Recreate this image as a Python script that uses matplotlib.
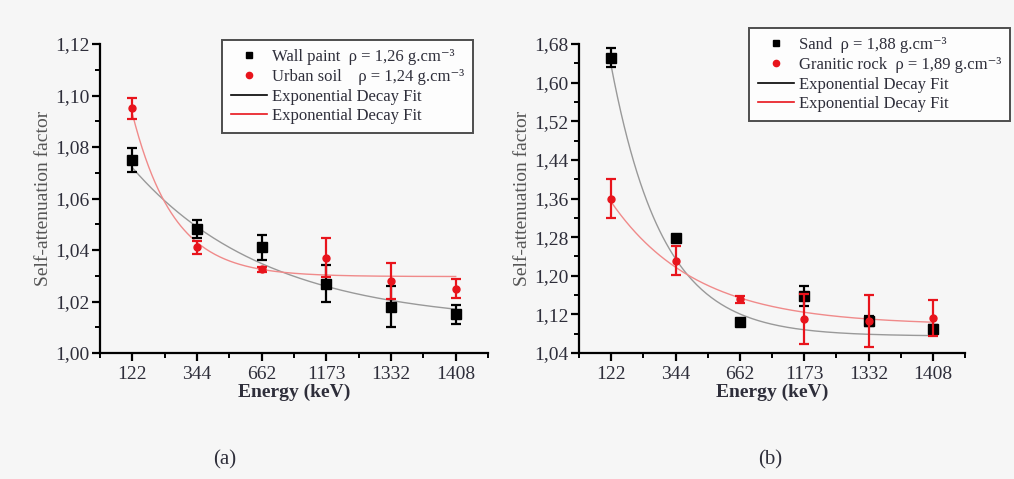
import numpy as np
import matplotlib
matplotlib.use("Agg")
import matplotlib.pyplot as plt
from matplotlib.ticker import FixedLocator, FuncFormatter, MultipleLocator
from matplotlib.lines import Line2D

plt.rcParams['font.family'] = ['Liberation Serif', 'DejaVu Serif']

energies = ["122", "344", "662", "1173", "1332", "1408"]

# panel (a)
wall_paint = [1.075, 1.048, 1.041, 1.027, 1.018, 1.015]
wall_paint_err = [0.0045, 0.0035, 0.005, 0.007, 0.008, 0.0037]
urban_soil = [1.095, 1.041, 1.0325, 1.037, 1.028, 1.025]
urban_soil_err = [0.004, 0.0025, 0.001, 0.0075, 0.007, 0.0037]
# exponential decay fit parameters (y0, A, t), x = category index
wall_fit = (1.0115, 0.0605, 2.09)
urban_fit = (1.0297, 0.0633, 0.64)

# panel (b)
sand = [1.652, 1.279, 1.105, 1.158, 1.107, 1.089]
sand_err = [0.02, 0.006, 0.003, 0.021, 0.01, 0.01]
granite = [1.36, 1.231, 1.151, 1.110, 1.107, 1.112]
granite_err = [0.041, 0.03, 0.008, 0.052, 0.054, 0.037]
sand_fit = (1.075, 0.56, 0.80)
granite_fit = (1.098, 0.255, 1.324)

TXT = '#2e2e3a'


def expdec(p, x):
    y0, A, t = p
    return y0 + A * np.exp(-x / t)


def style_axes(ax, ymin, ymax, ystep):
    ax.set_facecolor('#f6f6f6')
    for s in ['top', 'right']:
        ax.spines[s].set_visible(False)
    for s in ['left', 'bottom']:
        ax.spines[s].set_linewidth(1.6)
    ax.set_xlim(-0.5, 5.5)
    ax.set_ylim(ymin, ymax)
    ax.xaxis.set_major_locator(FixedLocator(range(len(energies))))
    ax.set_xticklabels(energies)
    ax.xaxis.set_minor_locator(FixedLocator(np.arange(-0.5, 5.6, 1.0)))
    ax.yaxis.set_major_locator(MultipleLocator(ystep))
    ax.yaxis.set_minor_locator(MultipleLocator(ystep / 2))
    ax.yaxis.set_major_formatter(FuncFormatter(lambda v, p: ("%.2f" % v).replace(".", ",")))
    ax.tick_params(which='major', direction='out', length=6, width=1.6,
                   labelsize=14, labelcolor=TXT, pad=3)
    ax.tick_params(axis='y', which='major', pad=1.5)
    ax.tick_params(which='minor', direction='out', length=3.5, width=1.4)
    ax.set_xlabel("Energy (keV)", fontsize=14, fontweight='bold', color=TXT, labelpad=1)
    ax.set_ylabel("Self-attenuation factor", fontsize=14, color='#555555', labelpad=2)


def draw(ax, s1, e1, f1, s2, e2, f2, lab1, lab2, anchor):
    x = np.arange(len(energies))
    xf = np.linspace(0, 5, 200)
    ax.plot(xf, expdec(f1, xf), color='#999999', lw=1.0, zorder=2)
    ax.plot(xf, expdec(f2, xf), color='#f08a8a', lw=1.0, zorder=2)
    ax.errorbar(x, s1, yerr=e1, fmt='s', color='black', ms=6.5, capsize=3.5,
                capthick=1.6, elinewidth=1.6, zorder=3)
    ax.errorbar(x, s2, yerr=e2, fmt='o', color='#e8141c', ms=5, capsize=3.5,
                capthick=1.6, elinewidth=1.6, zorder=4)
    handles = [
        Line2D([], [], ls='none', marker='s', color='black', ms=5),
        Line2D([], [], ls='none', marker='o', color='#e8141c', ms=4.5),
        Line2D([], [], color='black', lw=1.2),
        Line2D([], [], color='#e8141c', lw=1.2),
    ]
    leg = ax.legend(handles, [lab1, lab2, "Exponential Decay Fit", "Exponential Decay Fit"],
                    loc='upper left', bbox_to_anchor=anchor, fontsize=12,
                    frameon=True, fancybox=False, edgecolor='#222222',
                    handlelength=2.15, handletextpad=0.3, labelspacing=0.22,
                    borderpad=0.55, borderaxespad=0)
    leg.get_frame().set_linewidth(1.4)
    leg.get_frame().set_facecolor('white')
    for t in leg.get_texts():
        t.set_color(TXT)


fig = plt.figure(figsize=(10.14, 4.79), dpi=100)
fig.patch.set_facecolor('#f6f6f6')

ax1 = fig.add_axes([0.0986, 0.263, 0.3827, 0.645])
style_axes(ax1, 1.00, 1.12, 0.02)
draw(ax1, wall_paint, wall_paint_err, wall_fit, urban_soil, urban_soil_err, urban_fit,
     "Wall paint  ρ = 1,26 g.cm⁻³", "Urban soil    ρ = 1,24 g.cm⁻³",
     (0.314, 1.013))

ax2 = fig.add_axes([0.571, 0.263, 0.3807, 0.645])
style_axes(ax2, 1.04, 1.68, 0.08)
draw(ax2, sand, sand_err, sand_fit, granite, granite_err, granite_fit,
     "Sand  ρ = 1,88 g.cm⁻³", "Granitic rock  ρ = 1,89 g.cm⁻³",
     (0.44, 1.052))

fig.text(225 / 1014, 1 - 460 / 479, "(a)", fontsize=15, color=TXT, ha='center', va='center')
fig.text(770 / 1014, 1 - 460 / 479, "(b)", fontsize=15, color=TXT, ha='center', va='center')

fig.savefig("out.png", dpi=100, facecolor=fig.get_facecolor())
